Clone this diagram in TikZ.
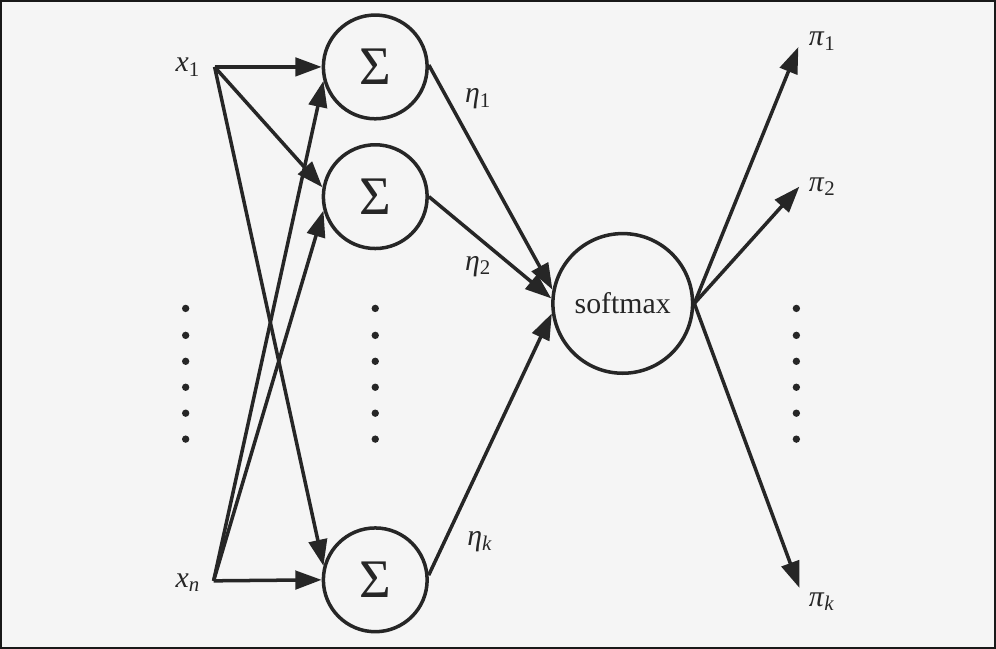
\documentclass[tikz,border=0pt]{standalone}
\usepackage{fontspec}
\setmainfont{Liberation Serif}
\usepackage{xcolor}
\usepackage{tikz}
\usetikzlibrary{arrows.meta}
\newcommand{\lab}[2]{\textit{#1}\textsubscript{#2}}
\newcommand{\vdotcol}[1]{\foreach \y in {308,335,361,387,413,439} \fill (#1,\y) circle (2.1pt);}

\begin{document}
\begin{tikzpicture}[x=0.02cm,y=-0.02cm,
    line width=2pt,
    sumnode/.style={circle,draw,minimum size=2.08cm,inner sep=0pt,font=\fontsize{31}{34}\selectfont},
    smnode/.style={circle,draw,minimum size=2.8cm,inner sep=0pt,font=\fontsize{17}{20}\selectfont},
    lbl/.style={font=\fontsize{17}{20}\selectfont,inner sep=1pt},
    arr/.style={-{Triangle[length=15pt,width=10.5pt]}}]
  % frame
  \fill[black!4] (0,0) rectangle (996,648);
  \draw[line width=1.2pt,black!90] (0,0) rectangle (996,648);
  \useasboundingbox (0,0) rectangle (996,648);

  \begin{scope}[black!85]
  % inputs
  \coordinate (x1) at (214,66);
  \coordinate (xn) at (213,581);
  \node[lbl,left] (x1l) at (203,66) {\lab{x}{1}};
  \node[lbl,left] (xnl) at (203,583) {\lab{x}{\textit{n}}};

  % summation units
  \node[sumnode] (s1) at (375,66) {Σ};
  \node[sumnode] (s2) at (375,196) {Σ};
  \node[sumnode] (sk) at (375,580) {Σ};

  % softmax unit
  \node[smnode] (sm) at (623,303) {softmax};

  % outputs
  \coordinate (p1) at (799,46);
  \coordinate (p2) at (800,186);
  \coordinate (pk) at (800,588);
  \node[lbl,right] (p1l) at (806,40) {\lab{π}{1}};
  \node[lbl,right] (p2l) at (806,186) {\lab{π}{2}};
  \node[lbl,right] (pkl) at (806,602) {\lab{π}{\textit{k}}};

  % dots
  \vdotcol{185}
  \vdotcol{375}
  \vdotcol{797}

  \path[arr]
    (x1) edge (s1.west)
         edge (s2.170)
         edge (sk.165)
    (xn) edge (sk.west)
         edge (s2.195)
         edge (s1.195)
    (s1.2) edge (sm.169)
    (s2.east) edge (sm.176)
    (sk.5) edge (sm.188)
    (sm.east) edge (p1)
              edge (p2)
              edge (pk);

  \node[lbl] (e1) at (478,98) {\lab{η}{1}};
  \node[lbl] (e2) at (478,266) {\lab{η}{2}};
  \node[lbl] (ek) at (480,542) {\lab{η}{\textit{k}}};
  \end{scope}
\end{tikzpicture}
\end{document}
